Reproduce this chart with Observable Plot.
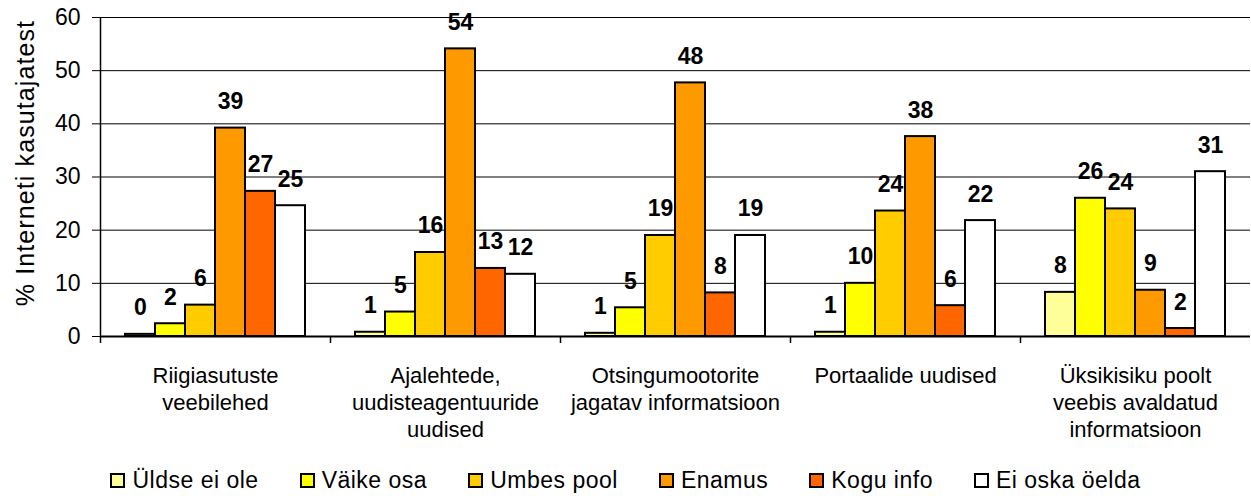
<!DOCTYPE html>
<html><head><meta charset="utf-8">
<script src="https://cdn.jsdelivr.net/npm/d3@7"></script>
<script src="https://cdn.jsdelivr.net/npm/@observablehq/plot@0.6"></script>
<style>
body{margin:0;background:#fff;font-family:"Liberation Sans",Arial,sans-serif;}
#legend{display:flex;justify-content:center;align-items:center;height:32px;padding-top:12px;font-size:23px;letter-spacing:0.5px;color:#000;}
.item{display:flex;align-items:center;margin:0 20.5px;white-space:nowrap;}
.sw{width:15px;height:15px;box-sizing:border-box;border:2px solid #000;margin-right:7px;}
</style></head><body><div id="chart"></div><div id="legend"></div>
<script>
const categories = [
  "Riigiasutuste\nveebilehed",
  "Ajalehtede,\nuudisteagentuuride\nuudised",
  "Otsingumootorite\njagatav informatsioon",
  "Portaalide uudised",
  "Üksikisiku poolt\nveebis avaldatud\ninformatsioon"
];
const series = ["Üldse ei ole", "Väike osa", "Umbes pool", "Enamus", "Kogu info", "Ei oska öelda"];
const colors = ["#FFFF99", "#FFFF00", "#FFCC00", "#FF9900", "#FF6600", "#FFFFFF"];
const uldseEiOle = [0.4, 0.8, 0.6, 0.8, 8.3];
const vaikeOsa   = [2.4, 4.6, 5.4, 10.0, 26.0];
const umbesPool  = [5.9, 15.8, 19.0, 23.6, 24.0];
const enamus     = [39.2, 54.1, 47.7, 37.6, 8.7];
const koguInfo   = [27.3, 12.8, 8.2, 5.8, 1.5];
const eiOskaOelda = [24.6, 11.7, 19.0, 21.8, 31.0];
const yTicks = [0, 10, 20, 30, 40, 50, 60];
const yLabel = "% Interneti kasutajatest";

const seriesValues = [uldseEiOle, vaikeOsa, umbesPool, enamus, koguInfo, eiOskaOelda];
const data = categories.flatMap((c, ci) =>
  series.map((s, si) => ({category: c, series: s, value: seriesValues[si][ci]})));

const chart = Plot.plot({
  width: 1251, height: 452,
  marginLeft: 98, marginRight: 0, marginTop: 17, marginBottom: 116,
  style: {fontFamily: '"Liberation Sans", Arial, sans-serif', background: "white", color: "#000", overflow: "visible"},
  fx: {domain: categories, paddingInner: 0, paddingOuter: 0, axis: null},
  x: {domain: series, paddingInner: 0, paddingOuter: 0.726, axis: null},
  y: {domain: [0, 60]},
  color: {domain: series, range: colors},
  marks: [
    Plot.gridY({ticks: yTicks, stroke: "#000", strokeOpacity: 1, strokeWidth: 1}),
    Plot.axisY({ticks: yTicks, tickSize: 8, tickPadding: 12, fontSize: 23, label: null}),
    Plot.barY(data, {fx: "category", x: "series", y: "value", fill: "series", stroke: "#000", strokeWidth: 2}),
    Plot.ruleY([0], {stroke: "#000", strokeWidth: 2}),
    Plot.text(data, {fx: "category", x: "series", y: "value", text: d => String(Math.round(d.value)),
      dy: -19, lineAnchor: "bottom", fontWeight: "bold", fontSize: 23}),
    Plot.text(categories, {fx: d => d, text: d => d, frameAnchor: "bottom", lineAnchor: "top",
      dy: 27, fontSize: 22, lineHeight: 1.23}),
    Plot.text([yLabel], {fx: () => categories[0], text: d => d, frameAnchor: "left", textAnchor: "middle",
      rotate: -90, dx: -75, dy: -14, fontSize: 25})
  ]
});
document.getElementById("chart").appendChild(chart);

// widen the y-axis title slightly, like the reference
d3.select(chart).selectAll("text").filter(function() { return this.textContent === yLabel; })
  .style("letter-spacing", "1.1px");

// y-axis line and category boundary ticks, positioned with Plot's own scales
const fxS = chart.scale("fx"), yS = chart.scale("y");
const y0 = yS.apply(0);
const svg = d3.select(chart);
categories.forEach((c, i) => {
  const x = Math.round(fxS.apply(c)) + 0.5;
  svg.append("line")
    .attr("x1", x).attr("x2", x)
    .attr("y1", i === 0 ? yS.apply(60) : y0)
    .attr("y2", y0 + 7)
    .attr("stroke", "#000").attr("stroke-width", 1.5);
});

const legend = d3.select("#legend");
series.forEach((s, i) => {
  const item = legend.append("div").attr("class", "item");
  item.append("div").attr("class", "sw").style("background", colors[i]);
  item.append("span").text(s);
});
</script>
</body></html>
